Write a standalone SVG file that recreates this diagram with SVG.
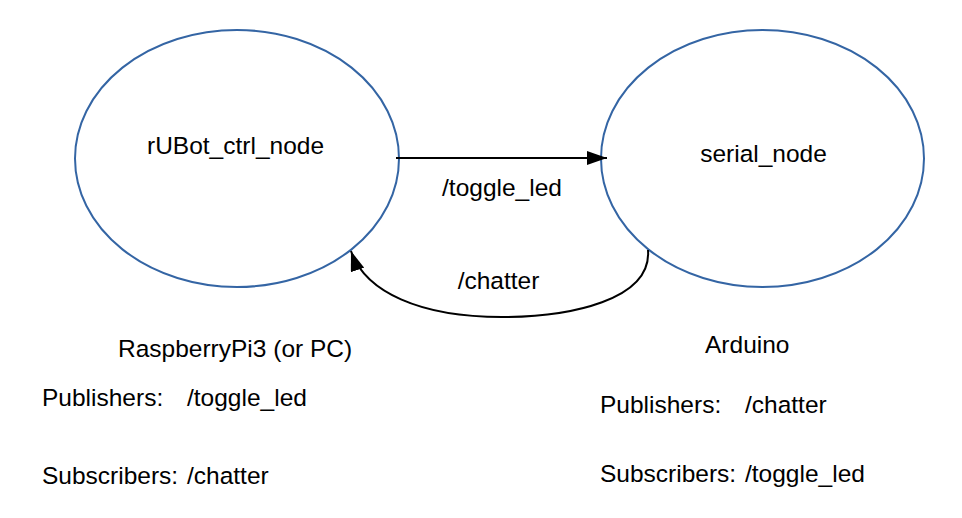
<svg xmlns="http://www.w3.org/2000/svg" width="962" height="518" viewBox="0 0 962 518">
<style>
text{font-family:"Liberation Sans",Arial,sans-serif;font-size:24.5px;fill:#000}
.node ellipse{fill:#fff;stroke:#3465a4;stroke-width:2}
.edge{fill:none;stroke:#000;stroke-width:2}
.mid{text-anchor:middle}
</style>
<defs>
<marker id="ah" markerUnits="userSpaceOnUse" markerWidth="21" markerHeight="14" refX="20" refY="7" orient="auto" viewBox="0 0 21 14">
<path d="M0,0 L20,7 L0,14 z" fill="#000"/>
</marker>
</defs>
<rect width="962" height="518" fill="#fff"/>
<g id="n-rubot" class="node">
<ellipse cx="237" cy="158.5" rx="162" ry="128.5"/>
<text class="mid" x="235.5" y="154">rUBot_ctrl_node</text>
</g>
<g id="n-serial" class="node">
<ellipse cx="762.5" cy="158.5" rx="161.5" ry="128.5"/>
<text class="mid" x="763.5" y="162">serial_node</text>
</g>
<g id="connectors">
<path class="edge" d="M396,158 L607,158" marker-end="url(#ah)"/>
<text class="mid" x="502" y="196">/toggle_led</text>
<path class="edge" d="M648,250 C652,300 570,317 502,317 C420,317 365,292 351,251" marker-end="url(#ah)"/>
<text class="mid" x="498.5" y="289">/chatter</text>
</g>
<g id="info-left">
<text x="118" y="357">RaspberryPi3 (or PC)</text>
<text x="42" y="406">Publishers:</text>
<text x="187" y="406">/toggle_led</text>
<text x="42" y="484">Subscribers:</text>
<text x="187" y="484">/chatter</text>
</g>
<g id="info-right">
<text x="705" y="353">Arduino</text>
<text x="600" y="413">Publishers:</text>
<text x="745" y="413">/chatter</text>
<text x="600" y="482">Subscribers:</text>
<text x="745" y="482">/toggle_led</text>
</g>
</svg>
